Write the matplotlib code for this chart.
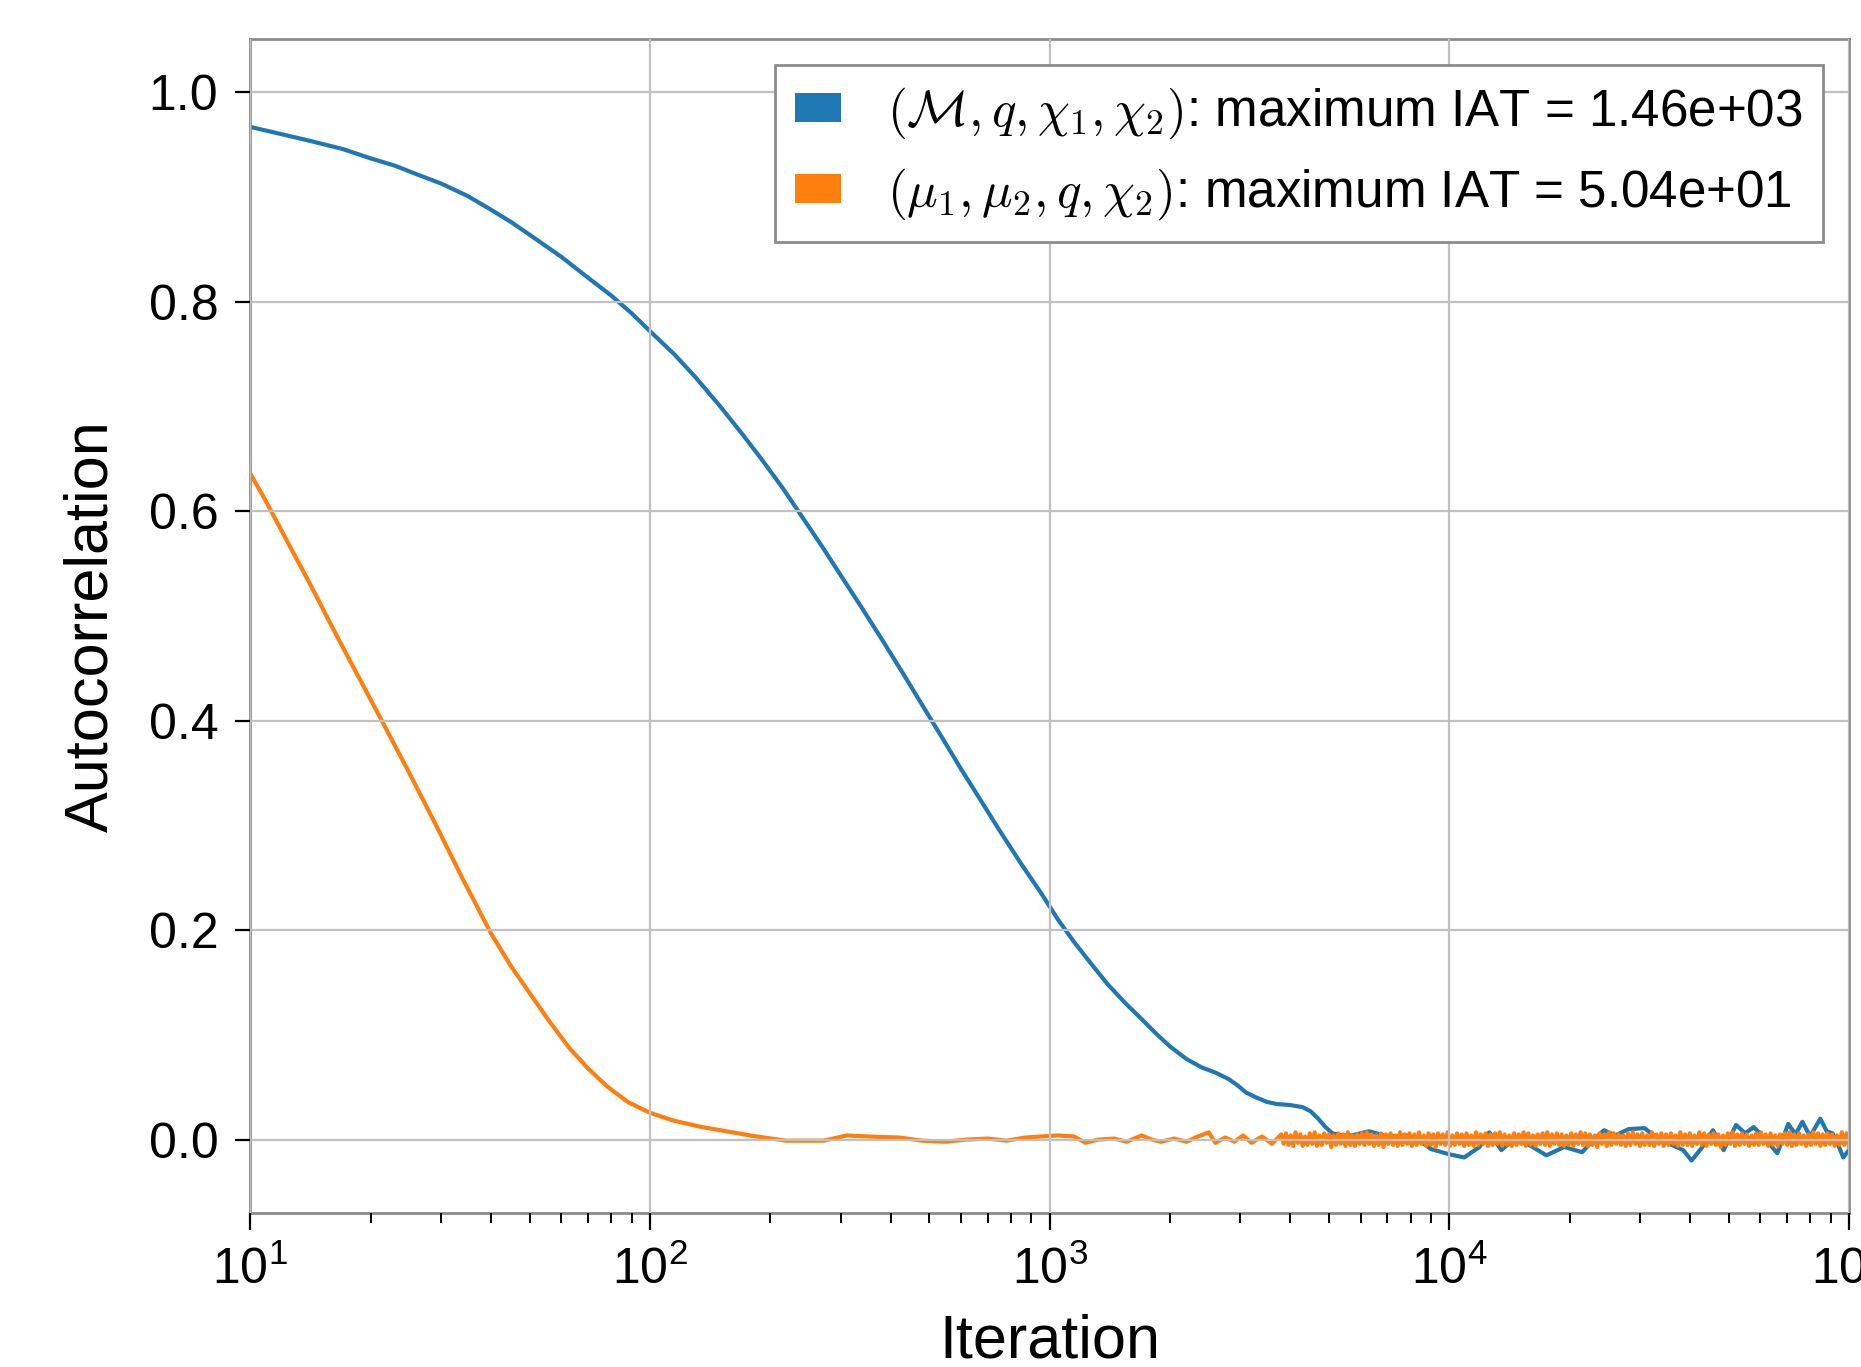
import numpy as np
import matplotlib
matplotlib.use('Agg')
import matplotlib.pyplot as plt
from matplotlib.patches import Patch

plt.rcParams['font.family'] = ['Liberation Sans', 'DejaVu Sans']
plt.rcParams['mathtext.fontset'] = 'cm'

# blue chain: (Mc, q, chi1, chi2)
blue_lags = [10, 12, 14, 17, 20, 23, 26, 30, 35, 40, 45, 50, 60, 70, 80, 90, 100,
             115, 130, 150, 170, 190, 215, 240, 270, 300, 340, 380, 430, 480, 540,
             600, 670, 750, 850, 950, 1050, 1150, 1270, 1400, 1550, 1700, 1850, 2000,
             2200, 2400, 2600, 2800, 2950, 3100, 3300, 3500, 3700, 4000, 4300, 4500,
             4700, 4900, 5100, 5400, 5700, 6300, 7000, 7800, 8500, 9000, 10000, 10900,
             11900, 12600, 13500, 14600, 16000, 17500, 19400, 21500, 23000, 24400,
             26000, 28100, 30800, 33000, 36000, 38500, 40400, 43000, 45700, 48600,
             52200, 55000, 57800, 62000, 66200, 70500, 73500, 76500, 80000, 84800,
             88000, 91000, 94000, 96800, 100000]
blue_acf = [0.967, 0.960, 0.954, 0.946, 0.937, 0.930, 0.922, 0.913, 0.901, 0.888,
            0.876, 0.864, 0.843, 0.823, 0.806, 0.789, 0.772, 0.750, 0.728, 0.700,
            0.674, 0.650, 0.622, 0.595, 0.566, 0.539, 0.507, 0.478, 0.445, 0.415,
            0.383, 0.354, 0.325, 0.295, 0.263, 0.236, 0.210, 0.189, 0.168, 0.148,
            0.130, 0.115, 0.101, 0.089, 0.077, 0.069, 0.064, 0.058, 0.052, 0.045,
            0.040, 0.036, 0.034, 0.033, 0.031, 0.027, 0.020, 0.012, 0.006, 0.004,
            0.004, 0.008, 0.003, 0.004, -0.002, -0.009, -0.014, -0.017, -0.007,
            0.007, -0.010, 0.001, -0.006, -0.015, -0.007, -0.012, 0.000, 0.009,
            0.004, 0.010, 0.011, 0.002, -0.005, -0.010, -0.020, -0.007, 0.009,
            -0.010, 0.014, 0.006, 0.012, 0.000, -0.013, 0.015, 0.005, 0.017, 0.003,
            0.020, 0.008, 0.006, -0.005, -0.017, -0.010]

# orange chain: (mu1, mu2, q, chi2)
orange_lags = [10, 11, 12.5, 14, 16, 18, 21, 25, 29, 34, 40, 45, 50, 56, 63, 70, 78,
               88, 100, 115, 135, 157, 185, 219, 272, 311, 350, 420, 480, 550, 620,
               700, 780, 870, 950, 1050, 1150, 1230, 1320, 1450, 1560, 1700, 1800,
               1900, 2050, 2200, 2350, 2500, 2600, 2750, 2900, 3050, 3200, 3400, 3600]
orange_acf = [0.636, 0.608, 0.568, 0.533, 0.490, 0.453, 0.405, 0.350, 0.302, 0.249,
              0.197, 0.165, 0.140, 0.113, 0.087, 0.068, 0.051, 0.036, 0.0256, 0.018,
              0.012, 0.0077, 0.003, -0.001, -0.001, 0.004, 0.003, 0.002, -0.001,
              -0.002, 0.000, 0.001, -0.001, 0.002, 0.003, 0.004, 0.003, -0.003, 0.000,
              0.001, -0.002, 0.004, 0.000, -0.002, 0.001, -0.002, 0.003, 0.007,
              -0.003, 0.002, -0.002, 0.004, -0.003, 0.003, -0.004]
# dense noisy tail of the orange chain, 3800 .. 1e5
orange_tail = [
    0.005, -0.004, 0.006, -0.005, 0.004, -0.006, 0.007, -0.003, 0.005, -0.006,
    0.003, -0.005, 0.006, -0.004, 0.007, -0.006, 0.004, -0.005, 0.006, -0.003,
    0.005, -0.007, 0.004, -0.005, 0.006, -0.004, 0.005, -0.006, 0.007, -0.005,
    0.004, -0.006, 0.005, -0.004, 0.006, -0.005, 0.007, -0.004, 0.005, -0.006,
    0.004, -0.005, 0.006, -0.007, 0.005, -0.004, 0.006, -0.005, 0.004, -0.006,
    0.007, -0.005, 0.005, -0.004, 0.006, -0.006, 0.005, -0.005, 0.007, -0.004,
    0.004, -0.006, 0.006, -0.005, 0.005, -0.007, 0.006, -0.004, 0.005, -0.005,
    0.007, -0.006, 0.004, -0.005, 0.006, -0.004, 0.005, -0.006, 0.006, -0.005,
    0.004, -0.006, 0.007, -0.005, 0.005, -0.004, 0.006, -0.006, 0.005, -0.005,
    0.006, -0.004, 0.007, -0.006, 0.005, -0.005, 0.004, -0.006, 0.006, -0.005,
    0.005, -0.004, 0.007, -0.006, 0.006, -0.005, 0.004, -0.006, 0.005, -0.004,
    0.006, -0.005, 0.007, -0.006, 0.005, -0.004, 0.006, -0.005, 0.005, -0.006,
    0.004, -0.005, 0.006, -0.006, 0.005, -0.004, 0.007, -0.005, 0.006, -0.006,
    0.005, -0.005, 0.004, -0.007, 0.006, -0.004, 0.005, -0.006, 0.007, -0.005,
    0.006, -0.004, 0.005, -0.005, 0.004, -0.006, 0.006, -0.005, 0.007, -0.004,
    0.005, -0.006, 0.006, -0.005, 0.004, -0.005, 0.007, -0.006, 0.005, -0.004,
    0.006, -0.006, 0.005, -0.005, 0.006, -0.004, 0.004, -0.006, 0.007, -0.005,
    0.005, -0.005, 0.006, -0.006, 0.004, -0.004, 0.007, -0.005, 0.006, -0.006,
    0.005, -0.004, 0.006, -0.005, 0.005, -0.007, 0.004, -0.005, 0.006, -0.004,
    0.007, -0.006, 0.005, -0.005, 0.006, -0.004, 0.005, -0.006, 0.004, -0.005,
    0.006, -0.005, 0.007, -0.004, 0.005, -0.006, 0.006, -0.005, 0.004, -0.006,
    0.005, -0.004, 0.006, -0.005, 0.007, -0.006, 0.005, -0.005, 0.006, -0.004,
    0.004, -0.006, 0.005, -0.005, 0.007, -0.004, 0.006, -0.006, 0.005, -0.005,
    0.006, -0.004, 0.005, -0.006, 0.004, -0.005, 0.007, -0.005, 0.006, -0.006,
]
tail_lags = np.geomspace(3800, 100000, len(orange_tail))

labels = [r'$(\mathcal{M}, q, \chi_1, \chi_2)$: maximum IAT = 1.46e+03',
          r'$(\mu_1, \mu_2, q, \chi_2)$: maximum IAT = 5.04e+01']
colors = ['#1f77b4', '#ff7f0e']

fig = plt.figure(figsize=(9.305, 6.835), dpi=200)
ax = fig.add_axes([0.1345, 0.1127, 0.859, 0.8588])

ax.plot(blue_lags, blue_acf, color=colors[0], lw=1.5)
ax.plot(list(orange_lags) + list(tail_lags), orange_acf + orange_tail,
        color=colors[1], lw=1.5)

ax.set_xscale('log')
ax.set_xlim(10, 1e5)
ax.set_ylim(-0.07, 1.051)
ax.set_yticks([0.0, 0.2, 0.4, 0.6, 0.8, 1.0])
ax.set_axisbelow(False)
ax.grid(True, color='#c0c0c0', lw=0.8)

for s in ax.spines.values():
    s.set_color('#8c8c8c')
    s.set_linewidth(1.0)
ax.tick_params(axis='both', which='major', labelsize=18, color='black', width=0.8)
ax.tick_params(axis='x', which='major', length=6, pad=6)
ax.tick_params(axis='x', which='minor', length=3.6, width=0.7)
ax.tick_params(axis='y', which='major', length=5.5, pad=6)

ax.set_xlabel('Iteration', fontsize=22, labelpad=7)
ax.set_ylabel('Autocorrelation', fontsize=22, labelpad=10)

handles = [Patch(facecolor=c, edgecolor='none') for c in colors]
leg = ax.legend(handles, labels, loc='upper right', fontsize=18.4, fancybox=False,
                framealpha=1, edgecolor='#8c8c8c', handlelength=0.9, handleheight=0.5,
                handletextpad=0.9)
leg.get_frame().set_linewidth(1.0)

fig.savefig('out.png', dpi=200)
